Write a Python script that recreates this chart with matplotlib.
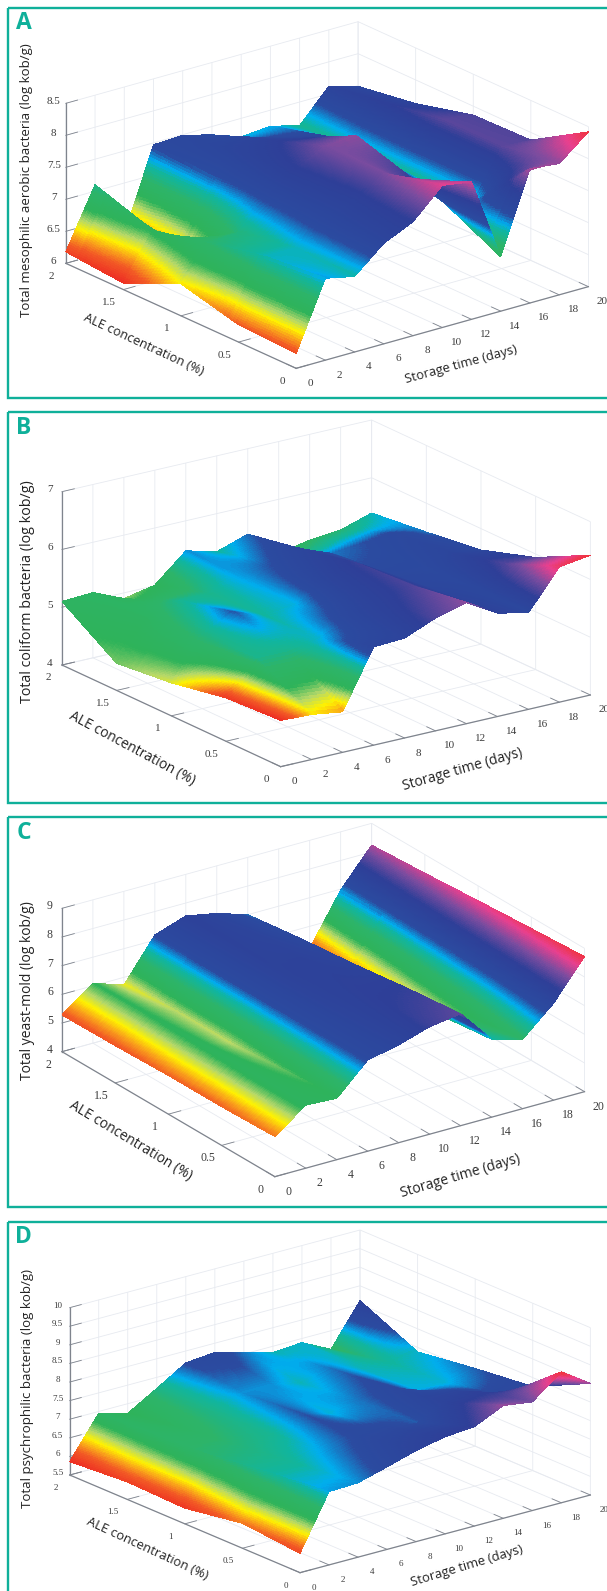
import numpy as np
import matplotlib
matplotlib.use("Agg")
import matplotlib.pyplot as plt
from matplotlib.colors import LinearSegmentedColormap, Normalize
from matplotlib.patches import Rectangle
from mpl_toolkits.mplot3d import proj3d

storage_days = [0, 2, 4, 6, 8, 10, 12, 14, 16, 18, 20]
ale_conc = [0, 0.5, 1, 1.5, 2]
ale_labels = ["0", "0.5", "1", "1.5", "2"]

# rows: ALE concentration, columns: storage time
mesophilic = [
    [6.23, 7.28, 7.18, 7.57, 7.78, 8.22, 8.15, 6.85, 8.10, 8.05, 8.42],
    [6.27, 7.20, 7.20, 7.50, 7.70, 8.00, 7.77, 7.30, 7.15, 7.90, 7.88],
    [6.50, 7.00, 7.05, 7.45, 7.75, 8.00, 8.05, 7.50, 7.15, 7.90, 7.86],
    [6.10, 6.80, 6.47, 7.40, 7.60, 7.70, 7.60, 7.50, 7.15, 7.75, 7.63],
    [6.18, 7.10, 6.20, 7.47, 7.49, 7.37, 7.21, 7.25, 7.13, 7.62, 7.49],
]
coliform = [
    [4.80, 4.78, 4.70, 5.70, 5.73, 5.95, 6.10, 5.79, 5.67, 6.34, 6.42],
    [4.75, 5.30, 5.30, 5.40, 5.65, 5.80, 5.95, 5.70, 5.65, 5.95, 5.94],
    [4.57, 5.25, 5.55, 5.35, 5.42, 5.70, 5.90, 5.60, 5.60, 5.70, 5.63],
    [4.47, 5.10, 5.30, 5.30, 5.45, 5.55, 5.70, 5.50, 5.55, 5.60, 5.50],
    [5.10, 5.13, 4.90, 5.01, 5.48, 5.34, 5.52, 5.06, 5.17, 5.22, 5.39],
]
# colour data at day 0 of the coliform surface differ from its heights
coliform_day0_colour = [4.45, 4.50, 4.85, 4.95, 5.10]
yeast_mold = [
    [5.40, 6.20, 6.14, 7.18, 7.41, 7.75, 7.90, 6.72, 6.42, 7.38, 8.71],
    [5.35, 6.20, 6.00, 7.18, 7.45, 7.65, 7.70, 6.50, 6.10, 7.25, 8.60],
    [5.35, 6.15, 5.85, 7.18, 7.50, 7.55, 7.45, 6.25, 5.85, 7.15, 8.48],
    [5.30, 6.10, 5.85, 7.18, 7.52, 7.45, 7.25, 6.00, 5.55, 7.05, 8.35],
    [5.28, 6.09, 5.73, 7.18, 7.55, 7.34, 7.00, 5.76, 5.23, 6.97, 8.24],
]
psychrophilic = [
    [6.02, 7.47, 7.50, 7.72, 7.95, 8.11, 8.17, 8.53, 8.42, 9.02, 8.50],
    [6.17, 7.30, 7.30, 7.50, 7.68, 7.70, 7.60, 7.95, 8.05, 7.75, 7.76],
    [5.92, 7.10, 7.15, 7.25, 7.62, 7.40, 7.55, 7.72, 7.42, 7.40, 7.59],
    [5.97, 7.00, 6.95, 7.20, 7.50, 7.50, 7.35, 7.55, 7.35, 7.30, 7.38],
    [5.86, 6.95, 6.74, 7.20, 7.68, 7.75, 7.54, 7.33, 7.39, 7.00, 8.10],
]

W, H = 607, 1591
SX, SY = 607 / 1568, 1 / 3   # reading scale of the coordinates noted below
TEAL = "#0fb09a"
cmap = LinearSegmentedColormap.from_list("surf", [
    (0.00, "#ee3124"), (0.07, "#f25a25"), (0.12, "#f9a01b"), (0.17, "#fff200"), (0.22, "#b5d86a"),
    (0.28, "#2eb35a"), (0.38, "#2db469"), (0.46, "#10b5a0"), (0.50, "#00aeef"),
    (0.56, "#2b4ba0"), (0.72, "#2e3f98"), (0.82, "#7a4c9f"), (0.92, "#e8408f"),
    (1.00, "#f0333f")])

panels = [
    dict(letter="A", z=mesophilic, zlim=(6, 8.5), zt=[6, 6.5, 7, 7.5, 8, 8.5], ztl=["6", "6.5", "7", "7.5", "8", "8.5"],
         off=0, o=(765, 1105), t=(1520, 860), c=(170, 790), ztop=310,
         top=8, bot=398, lety=70, tick=8, fs=9.3, yfs=9.5,
         yl="Total mesophilic aerobic bacteria (log kob/g)", ylc=(68, 540), al=(370, 1035, -24.9), sl=(1190, 1092, 15.3)),
    dict(letter="B", z=coliform, zlim=(4, 7), zt=[4, 5, 6, 7], ztl=["4", "5", "6", "7"],
         off=405, o=(725, 1085), t=(1525, 870), c=(160, 780), ztop=260,
         top=412, bot=803, lety=70, tick=8, fs=10, yfs=10.3, day0=coliform_day0_colour,
         yl="Total coliform bacteria (log kob/g)", ylc=(70, 560), al=(342, 1032, -28.2), sl=(1195, 1095, 16)),
    dict(letter="C", z=yeast_mold, zlim=(4, 9), zt=[4, 5, 6, 7, 8, 9], ztl=["4", "5", "6", "7", "8", "9"],
         off=810, o=(710, 1100), t=(1510, 845), c=(160, 725), ztop=295, cmin=5.05,
         top=817, bot=1207, lety=68, tick=8.5, fs=10, yfs=10,
         yl="Total yeast-mold (log kob/g)", ylc=(72, 541), al=(338, 992, -31.1), sl=(1190, 1098, 16.5)),
    dict(letter="D", z=psychrophilic, zlim=(5.5, 10), zt=[5.5, 6, 6.5, 7, 7.5, 8, 8.5, 9, 9.5, 10],
         ztl=["5.5", "6", "6.5", "7", "7.5", "8", "8.5", "9", "9.5", "10"],
         off=1210, o=(775, 1088), t=(1525, 855), c=(180, 795), ztop=293,
         top=1222, bot=1700, lety=82, tick=6.5, fs=9.4, yfs=9.5,
         yl="Total psychrophilic bacteria (log kob/g)", ylc=(72, 537), al=(382, 1015, -24.8), sl=(1205, 1067, 16.8)),
]

fig = plt.figure(figsize=(W / 100, H / 100), dpi=100)
fig.patch.set_facecolor("white")
bg = fig.add_axes([0, 0, 1, 1], zorder=10)
bg.set_xlim(0, W); bg.set_ylim(H, 0); bg.axis("off"); bg.patch.set_alpha(0)


def draw_panel(p):
    Z = np.array(p["z"], float)
    Cdata = Z.copy()
    if "day0" in p:
        Cdata[:, 0] = p["day0"]
    t = np.array(storage_days, float)
    c = np.array(ale_conc, float)
    tf = np.linspace(t[0], t[-1], 321)
    cf = np.linspace(c[0], c[-1], 81)

    def fine(a):
        rows = np.array([np.interp(tf, t, row) for row in a])
        return np.array([np.interp(cf, c, col) for col in rows.T]).T

    Zf, Cf = fine(Z), fine(Cdata)
    T, C = np.meshgrid(tf, cf)
    norm = Normalize(p.get("cmin", Cdata.min()), Cdata.max())

    # orthographic view that reproduces the floor directions and the z extent
    off = p["off"]
    px = lambda q: np.array([q[0] * SX, q[1] * SY + off])
    po, pt, pc = px(p["o"]), px(p["t"]), px(p["c"])
    Tv, Cv = pt - po, pc - po
    ry, rx = -Tv[1] / Tv[0], -Cv[1] / -Cv[0]
    elev = np.arcsin(np.sqrt(rx * ry))
    alpha = np.arctan(np.sqrt(rx / ry))
    a = Tv[0] / np.sin(alpha)
    b = -Cv[0] / np.cos(alpha)
    zpx = (p["c"][1] - p["ztop"]) * SY
    zz = zpx / np.cos(elev)

    ax = fig.add_axes([0.1, 0.1, 0.5, 0.5 * W / H], projection="3d", zorder=5)
    ax.set_proj_type("ortho")
    ax.view_init(elev=np.degrees(elev), azim=180 + np.degrees(alpha))
    ax.set_box_aspect((a, b, zz))
    ax.set_xlim(0, 20); ax.set_ylim(0, 2); ax.set_zlim(*p["zlim"])
    ax.set_facecolor("none")

    ax.plot_surface(T, C, Zf, facecolors=cmap(norm(Cf)), rstride=1, cstride=1,
                    shade=False, antialiased=False, linewidth=0)

    ax.set_xticks(storage_days)
    ax.set_yticks(ale_conc)
    ax.set_zticks(p["zt"])
    ax.set_xticklabels([]); ax.set_yticklabels([]); ax.set_zticklabels([])
    for axis in (ax.xaxis, ax.yaxis, ax.zaxis):
        axis.set_pane_color((1, 1, 1, 0))
        axis.pane.set_edgecolor("#dfe3ea")
        axis.pane.set_linewidth(0.8)
        axis.line.set_color("#7f848d")
        axis.line.set_linewidth(0.9)
        axis._axinfo["grid"].update(color="#e7eaf0", linewidth=0.6)
        axis._axinfo["tick"].update(inward_factor=0.0, outward_factor=0.5, linewidth={True: 0.6, False: 0.4})
        axis.set_tick_params(color="#7f848d")

    # fit the axes box so the three floor corners land on the reference's
    ax.apply_aspect()
    M = ax.get_proj()
    z0 = p["zlim"][0]

    def screen(xx, yy, zv):
        u, v, _ = proj3d.proj_transform(xx, yy, zv, M)
        return ax.transData.transform((u, v))

    disp = [screen(0, 0, z0), screen(20, 0, z0), screen(0, 2, z0)]
    f = ax.transAxes.inverted().transform(np.array(disp))
    target = np.array([po, pt, pc], float)
    target[:, 1] = H - target[:, 1]
    fm, tm = f.mean(0), target.mean(0)
    S = ((f - fm) * (target - tm)).sum() / ((f - fm) ** 2).sum()
    L, B = tm - S * fm
    ax.set_position([L / W, B / H, S / W, S / H])
    ax.apply_aspect()

    # tick labels, set off from the projected tick positions in pixels
    serif = ["Liberation Serif", "DejaVu Serif"]
    lab = dict(family=serif, fontsize=p["tick"], color="#3c3c3c", ha="center", va="center")

    def put(xx, yy, zv, dx, dy, s):
        q = screen(xx, yy, zv)
        bg.text(q[0] + dx, H - q[1] + dy, s, **lab)

    for d in storage_days:
        put(d, 0, z0, 14, 15, str(d))
    for v, s in zip(ale_conc, ale_labels):
        put(0, v, z0, -14, 13, s)
    for v, s in zip(p["zt"], p["ztl"]):
        put(0, 2, v, -12, -2, s)

    # frame, panel letter, axis titles
    bg.add_patch(Rectangle((8, p["top"]), W + 20, p["bot"] - p["top"], fill=False, ec=TEAL, lw=1.7))
    sans = ["Open Sans", "DejaVu Sans"]
    bg.text(23.5, off + p["lety"] * SY, p["letter"], color=TEAL, family=sans, weight="bold", fontsize=16.5,
            ha="center", va="center")
    kw = dict(family=sans, color="#222222", ha="center", va="center", rotation_mode="anchor")
    bg.text(p["ylc"][0] * SX, off + p["ylc"][1] * SY, p["yl"], rotation=90, fontsize=p["yfs"], **kw)
    bg.text(p["al"][0] * SX, off + p["al"][1] * SY, "ALE concentration (%)", rotation=p["al"][2], fontsize=p["fs"], **kw)
    bg.text(p["sl"][0] * SX, off + p["sl"][1] * SY, "Storage time (days)", rotation=p["sl"][2], fontsize=p["fs"], **kw)


for panel in panels:
    draw_panel(panel)

fig.savefig("out.png", dpi=100)
